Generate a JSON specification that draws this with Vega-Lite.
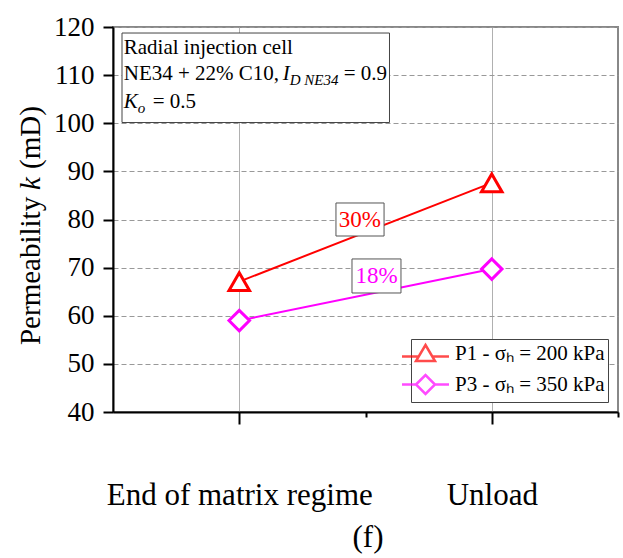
{
  "$schema": "https://vega.github.io/schema/vega-lite/v6.json",
  "width": 505,
  "height": 385,
  "autosize": "none",
  "padding": {"left": 113, "top": 27, "right": 5, "bottom": 146},
  "background": "white",
  "config": {
    "view": {"stroke": "#888", "strokeWidth": 2},
    "font": "Liberation Serif",
    "text": {"font": "Liberation Serif", "color": "black"}
  },
  "data": {
    "values": [
      {"stage": "End of matrix regime", "series": "P1 - σₕ = 200 kPa", "k": 67.1},
      {"stage": "Unload", "series": "P1 - σₕ = 200 kPa", "k": 87.6},
      {"stage": "End of matrix regime", "series": "P3 - σₕ = 350 kPa", "k": 59.0},
      {"stage": "Unload", "series": "P3 - σₕ = 350 kPa", "k": 69.7}
    ]
  },
  "transform": [{"calculate": "datum.stage === 'Unload' ? 3 : 1", "as": "xi"}],
  "layer": [
    {
      "mark": {"type": "line", "strokeWidth": 2},
      "encoding": {
        "x": {
          "field": "xi", "type": "quantitative",
          "scale": {"domain": [0, 4], "nice": false, "zero": false},
          "axis": {
            "values": [1, 2, 3, 4],
            "labelExpr": "datum.value === 1 ? 'End of matrix regime' : (datum.value === 3 ? 'Unload' : '')",
            "tickSize": {"condition": {"test": "datum.value === 1 || datum.value === 3", "value": 12}, "value": 5},
            "tickWidth": 2, "tickColor": "black",
            "domainColor": "black", "domainWidth": 2,
            "labelFont": "Liberation Serif", "labelFontSize": 31, "labelColor": "black",
            "labelPadding": 56, "labelFlush": false, "labelOverlap": false, "labelLimit": 500,
            "grid": true, "gridColor": "#b0b0b0", "gridWidth": 1,
            "gridOpacity": {"condition": {"test": "datum.value === 1 || datum.value === 3", "value": 1}, "value": 0},
            "title": null
          }
        },
        "y": {
          "field": "k", "type": "quantitative",
          "scale": {"domain": [40, 120], "nice": false, "zero": false},
          "axis": {
            "values": [40, 45, 50, 55, 60, 65, 70, 75, 80, 85, 90, 95, 100, 105, 110, 115, 120],
            "labelExpr": "datum.value % 10 === 0 ? datum.label : ''",
            "tickSize": {"condition": {"test": "datum.value % 10 === 0", "value": 10}, "value": 6},
            "tickWidth": 2, "tickColor": "black",
            "domainColor": "black", "domainWidth": 2,
            "labelFont": "Liberation Serif", "labelFontSize": 27, "labelColor": "black",
            "labelPadding": 9, "labelOverlap": false,
            "grid": true, "gridWidth": 1,
            "gridColor": {"condition": {"test": "datum.value % 10 === 0", "value": "#999999"}, "value": "#c8c8c8"},
            "gridDash": {"condition": {"test": "datum.value % 10 === 0", "value": [5, 3]}, "value": [2, 2]},
            "title": null
          }
        },
        "color": {
          "field": "series", "type": "nominal",
          "scale": {"domain": ["P1 - σₕ = 200 kPa", "P3 - σₕ = 350 kPa"], "range": ["#ff0000", "#ff00ff"]},
          "legend": null
        }
      }
    },
    {
      "mark": {"type": "point", "filled": true, "fill": "white", "strokeWidth": 3, "size": 420, "opacity": 1},
      "encoding": {
        "x": {"field": "xi", "type": "quantitative"},
        "y": {"field": "k", "type": "quantitative"},
        "stroke": {
          "field": "series", "type": "nominal",
          "scale": {"domain": ["P1 - σₕ = 200 kPa", "P3 - σₕ = 350 kPa"], "range": ["#ff0000", "#ff00ff"]},
          "legend": null
        },
        "shape": {
          "field": "series", "type": "nominal",
          "scale": {"domain": ["P1 - σₕ = 200 kPa", "P3 - σₕ = 350 kPa"], "range": ["triangle-up", "diamond"]},
          "legend": null
        }
      }
    },
    {
      "data": {"values": [{}]},
      "mark": {"type": "rect", "fill": "white", "stroke": "#444", "strokeWidth": 1},
      "encoding": {
        "x": {"datum": 0.0713, "type": "quantitative"},
        "x2": {"datum": 2.19},
        "y": {"datum": 118.75, "type": "quantitative"},
        "y2": {"datum": 100.15}
      }
    },
    {
      "data": {"values": [{}]},
      "mark": {"type": "text", "font": "Liberation Serif", "align": "left", "baseline": "alphabetic", "fontSize": 21, "text": "Radial injection cell"},
      "encoding": {"x": {"datum": 0.085, "type": "quantitative"}, "y": {"datum": 114.3, "type": "quantitative"}}
    },
    {
      "data": {"values": [{}]},
      "mark": {"type": "text", "font": "Liberation Serif", "align": "left", "baseline": "alphabetic", "fontSize": 21, "text": "NE34 + 22% C10,"},
      "encoding": {"x": {"datum": 0.085, "type": "quantitative"}, "y": {"datum": 108.9, "type": "quantitative"}}
    },
    {
      "data": {"values": [{}]},
      "mark": {"type": "text", "font": "Liberation Serif", "align": "left", "baseline": "alphabetic", "fontSize": 21, "fontStyle": "italic", "text": "I", "dx": 159},
      "encoding": {"x": {"datum": 0.085, "type": "quantitative"}, "y": {"datum": 108.9, "type": "quantitative"}}
    },
    {
      "data": {"values": [{}]},
      "mark": {"type": "text", "font": "Liberation Serif", "align": "left", "baseline": "alphabetic", "fontSize": 15, "fontStyle": "italic", "text": "D NE34", "dx": 166, "dy": 5},
      "encoding": {"x": {"datum": 0.085, "type": "quantitative"}, "y": {"datum": 108.9, "type": "quantitative"}}
    },
    {
      "data": {"values": [{}]},
      "mark": {"type": "text", "font": "Liberation Serif", "align": "left", "baseline": "alphabetic", "fontSize": 21, "text": "= 0.9", "dx": 220},
      "encoding": {"x": {"datum": 0.085, "type": "quantitative"}, "y": {"datum": 108.9, "type": "quantitative"}}
    },
    {
      "data": {"values": [{}]},
      "mark": {"type": "text", "font": "Liberation Serif", "align": "left", "baseline": "alphabetic", "fontSize": 21, "fontStyle": "italic", "text": "K"},
      "encoding": {"x": {"datum": 0.085, "type": "quantitative"}, "y": {"datum": 103.1, "type": "quantitative"}}
    },
    {
      "data": {"values": [{}]},
      "mark": {"type": "text", "font": "Liberation Serif", "align": "left", "baseline": "alphabetic", "fontSize": 15, "fontStyle": "italic", "text": "o", "dx": 14, "dy": 5},
      "encoding": {"x": {"datum": 0.085, "type": "quantitative"}, "y": {"datum": 103.1, "type": "quantitative"}}
    },
    {
      "data": {"values": [{}]},
      "mark": {"type": "text", "font": "Liberation Serif", "align": "left", "baseline": "alphabetic", "fontSize": 21, "text": "= 0.5", "dx": 29},
      "encoding": {"x": {"datum": 0.085, "type": "quantitative"}, "y": {"datum": 103.1, "type": "quantitative"}}
    },
    {
      "data": {"values": [{}]},
      "mark": {"type": "rect", "fill": "white", "stroke": "#555", "strokeWidth": 1},
      "encoding": {
        "x": {"datum": 1.766, "type": "quantitative"},
        "x2": {"datum": 2.147},
        "y": {"datum": 83.43, "type": "quantitative"},
        "y2": {"datum": 76.57}
      }
    },
    {
      "data": {"values": [{}]},
      "mark": {"type": "text", "font": "Liberation Serif", "align": "center", "baseline": "middle", "fontSize": 23, "color": "#ff0000", "text": "30%"},
      "encoding": {"x": {"datum": 1.956, "type": "quantitative"}, "y": {"datum": 79.9, "type": "quantitative"}}
    },
    {
      "data": {"values": [{}]},
      "mark": {"type": "rect", "fill": "white", "stroke": "#555", "strokeWidth": 1},
      "encoding": {
        "x": {"datum": 1.893, "type": "quantitative"},
        "x2": {"datum": 2.281},
        "y": {"datum": 71.8, "type": "quantitative"},
        "y2": {"datum": 64.73}
      }
    },
    {
      "data": {"values": [{}]},
      "mark": {"type": "text", "font": "Liberation Serif", "align": "center", "baseline": "middle", "fontSize": 23, "color": "#ff00ff", "text": "18%"},
      "encoding": {"x": {"datum": 2.087, "type": "quantitative"}, "y": {"datum": 68.25, "type": "quantitative"}}
    },
    {
      "transform": [{"filter": "datum.k < 0"}],
      "mark": {"type": "point", "filled": true, "fill": "white", "strokeWidth": 2.5},
      "encoding": {
        "x": {"field": "xi", "type": "quantitative"},
        "y": {"field": "k", "type": "quantitative"},
        "stroke": {
          "field": "series", "type": "nominal",
          "scale": {"domain": ["P1 - σₕ = 200 kPa", "P3 - σₕ = 350 kPa"], "range": ["#ff0000", "#ff00ff"]},
          "legend": {
            "orient": "bottom-right", "offset": 10, "title": null,
            "labelFont": "Liberation Serif", "labelFontSize": 21, "labelColor": "black", "labelLimit": 300,
            "symbolSize": 400, "symbolStrokeWidth": 2.5, "symbolFillColor": "white",
            "labelOffset": 18, "padding": 3, "rowPadding": 4,
            "strokeColor": "#444", "fillColor": "white"
          }
        },
        "shape": {
          "field": "series", "type": "nominal",
          "scale": {
            "domain": ["P1 - σₕ = 200 kPa", "P3 - σₕ = 350 kPa"],
            "range": [
              "M-2.35,0.3L-0.68,0.3M0.68,0.3L2.35,0.3M0,-0.85L0.95,0.75L-0.95,0.75Z",
              "M-2.35,0L-0.95,0M0.95,0L2.35,0M-0.95,0L0,-0.95L0.95,0L0,0.95Z"
            ]
          },
          "legend": {
            "orient": "bottom-right", "offset": 10, "title": null,
            "labelFont": "Liberation Serif", "labelFontSize": 21, "labelColor": "black", "labelLimit": 300,
            "symbolSize": 400, "symbolStrokeWidth": 2.5, "symbolFillColor": "white",
            "labelOffset": 18, "padding": 3, "rowPadding": 4,
            "strokeColor": "#444", "fillColor": "white"
          }
        }
      }
    },
    {
      "data": {"values": [{}]},
      "mark": {"type": "text", "font": "Liberation Serif", "align": "left", "baseline": "alphabetic", "fontSize": 29, "angle": 270, "text": "Permeability"},
      "encoding": {"x": {"datum": -0.578, "type": "quantitative"}, "y": {"datum": 53.92, "type": "quantitative"}}
    },
    {
      "data": {"values": [{}]},
      "mark": {"type": "text", "font": "Liberation Serif", "align": "left", "baseline": "alphabetic", "fontSize": 29, "angle": 270, "fontStyle": "italic", "text": "k", "dx": 155},
      "encoding": {"x": {"datum": -0.578, "type": "quantitative"}, "y": {"datum": 53.92, "type": "quantitative"}}
    },
    {
      "data": {"values": [{}]},
      "mark": {"type": "text", "font": "Liberation Serif", "align": "left", "baseline": "alphabetic", "fontSize": 29, "angle": 270, "text": "(mD)", "dx": 176},
      "encoding": {"x": {"datum": -0.578, "type": "quantitative"}, "y": {"datum": 53.92, "type": "quantitative"}}
    },
    {
      "data": {"values": [{}]},
      "mark": {"type": "text", "font": "Liberation Serif", "align": "center", "baseline": "middle", "fontSize": 31, "text": "(f)"},
      "encoding": {"x": {"datum": 2.02, "type": "quantitative"}, "y": {"datum": 13.9, "type": "quantitative"}}
    }
  ],
  "resolve": {"scale": {"stroke": "independent", "shape": "independent"}}
}
